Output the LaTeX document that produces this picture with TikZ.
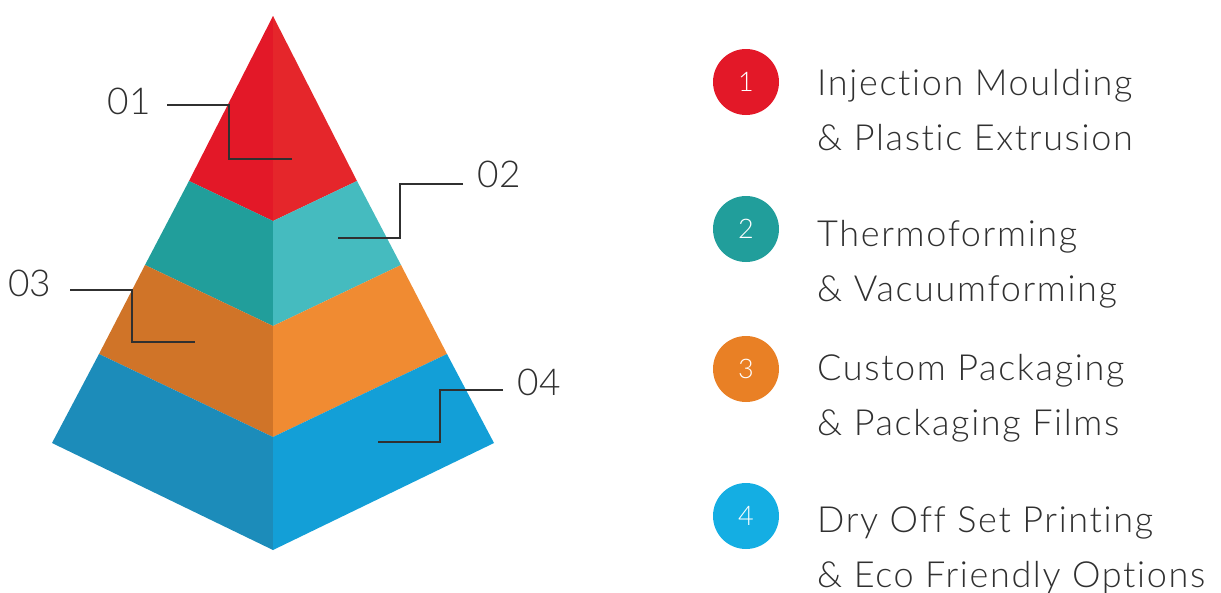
\documentclass[tikz,border=0pt]{standalone}
\usepackage{fontspec}
\IfFontExistsTF{Lato Light}
  {\setmainfont{Lato Light}[Ligatures=NoCommon]
   \newfontfamily\itemfont{Lato Light}[Ligatures=NoCommon, LetterSpace=4.6]}
  {\setmainfont{Lato}[Ligatures=NoCommon]
   \newfontfamily\itemfont{Lato}[Ligatures=NoCommon, LetterSpace=4.6]}
\usetikzlibrary{positioning}

\definecolor{redL}{HTML}{E31828}
\definecolor{redR}{HTML}{E5262B}
\definecolor{tealL}{HTML}{219E9B}
\definecolor{tealR}{HTML}{45BBBF}
\definecolor{orangeL}{HTML}{D07428}
\definecolor{orangeR}{HTML}{F08B32}
\definecolor{blueL}{HTML}{1C8CBA}
\definecolor{blueR}{HTML}{139FD7}
\definecolor{dotorange}{HTML}{E98025}
\definecolor{dotblue}{HTML}{14AEE3}
\definecolor{textgray}{HTML}{303030}

\begin{document}
\begin{tikzpicture}[
    x=1pt, y=-1pt,
    leader/.style={draw=textgray, line width=1.6pt},
    tag/.style={text=textgray, inner sep=0pt, font=\fontsize{37}{37}\selectfont},
    dot/.style={circle, minimum size=66pt, inner sep=0pt, text=white,
                font=\fontsize{27}{27}\selectfont},
    item/.style={text=textgray, align=left, anchor=base west, inner sep=0pt,
                 font=\itemfont\fontsize{36}{55}\selectfont}]

\useasboundingbox (0,0) rectangle (1221,592);

% corners of the pyramid bands
\coordinate (apex) at (273,16);
\coordinate (L1) at (189,181); \coordinate (F1) at (273,221); \coordinate (R1) at (357,181);
\coordinate (L2) at (145,265); \coordinate (F2) at (273,326); \coordinate (R2) at (401,265);
\coordinate (L3) at (99,354);  \coordinate (F3) at (273,437); \coordinate (R3) at (447,354);
\coordinate (L4) at (52,443);  \coordinate (F4) at (273,550); \coordinate (R4) at (494,443);

% band 1
\fill[redL] (apex) -- (L1) -- (F1) -- cycle;
\fill[redR] (apex) -- (F1) -- (R1) -- cycle;
% band 2
\fill[tealL] (L1) -- (L2) -- (F2) -- (F1) -- cycle;
\fill[tealR] (F1) -- (F2) -- (R2) -- (R1) -- cycle;
% band 3
\fill[orangeL] (L2) -- (L3) -- (F3) -- (F2) -- cycle;
\fill[orangeR] (F2) -- (F3) -- (R3) -- (R2) -- cycle;
% band 4
\fill[blueL] (L3) -- (L4) -- (F4) -- (F3) -- cycle;
\fill[blueR] (F3) -- (F4) -- (R4) -- (R3) -- cycle;

% numbered tags and their leaders
\node[tag] (t1) at (129,101) {01};
\node[tag] (t2) at (499,174) {02};
\node[tag] (t3) at (30,283) {03};
\node[tag] (t4) at (539,382) {04};

\coordinate (s1) at (167,105); \coordinate (k1) at (229,159); \coordinate (e1) at (292,159);
\coordinate (s2) at (463,184); \coordinate (k2) at (400,238); \coordinate (e2) at (338,238);
\coordinate (s3) at (70,290);  \coordinate (k3) at (132,342); \coordinate (e3) at (195,342);
\coordinate (s4) at (503,390); \coordinate (k4) at (440,442); \coordinate (e4) at (378,442);

\draw[leader] (s1) -| (k1) -- (e1);
\draw[leader] (s2) -| (k2) -- (e2);
\draw[leader] (s3) -| (k3) -- (e3);
\draw[leader] (s4) -| (k4) -- (e4);

% legend
\node[dot, fill=redL] (d1) at (746,82) {1};
\node[dot, fill=tealL] (d2) at (746,229) {2};
\node[dot, fill=dotorange] (d3) at (746,369) {3};
\node[dot, fill=dotblue] (d4) at (746,516) {4};

% text nodes sit on the baseline of their second line
\node[item] (i1) at (817,150) {Injection Moulding\\\& Plastic Extrusion};
\node[item] (i2) at (817,301) {Thermoforming\\\& Vacuumforming};
\node[item] (i3) at (817,435) {Custom Packaging\\\& Packaging Films};
\node[item] (i4) at (817,587) {Dry Off Set Printing\\\& Eco Friendly Options};
\end{tikzpicture}
\end{document}
